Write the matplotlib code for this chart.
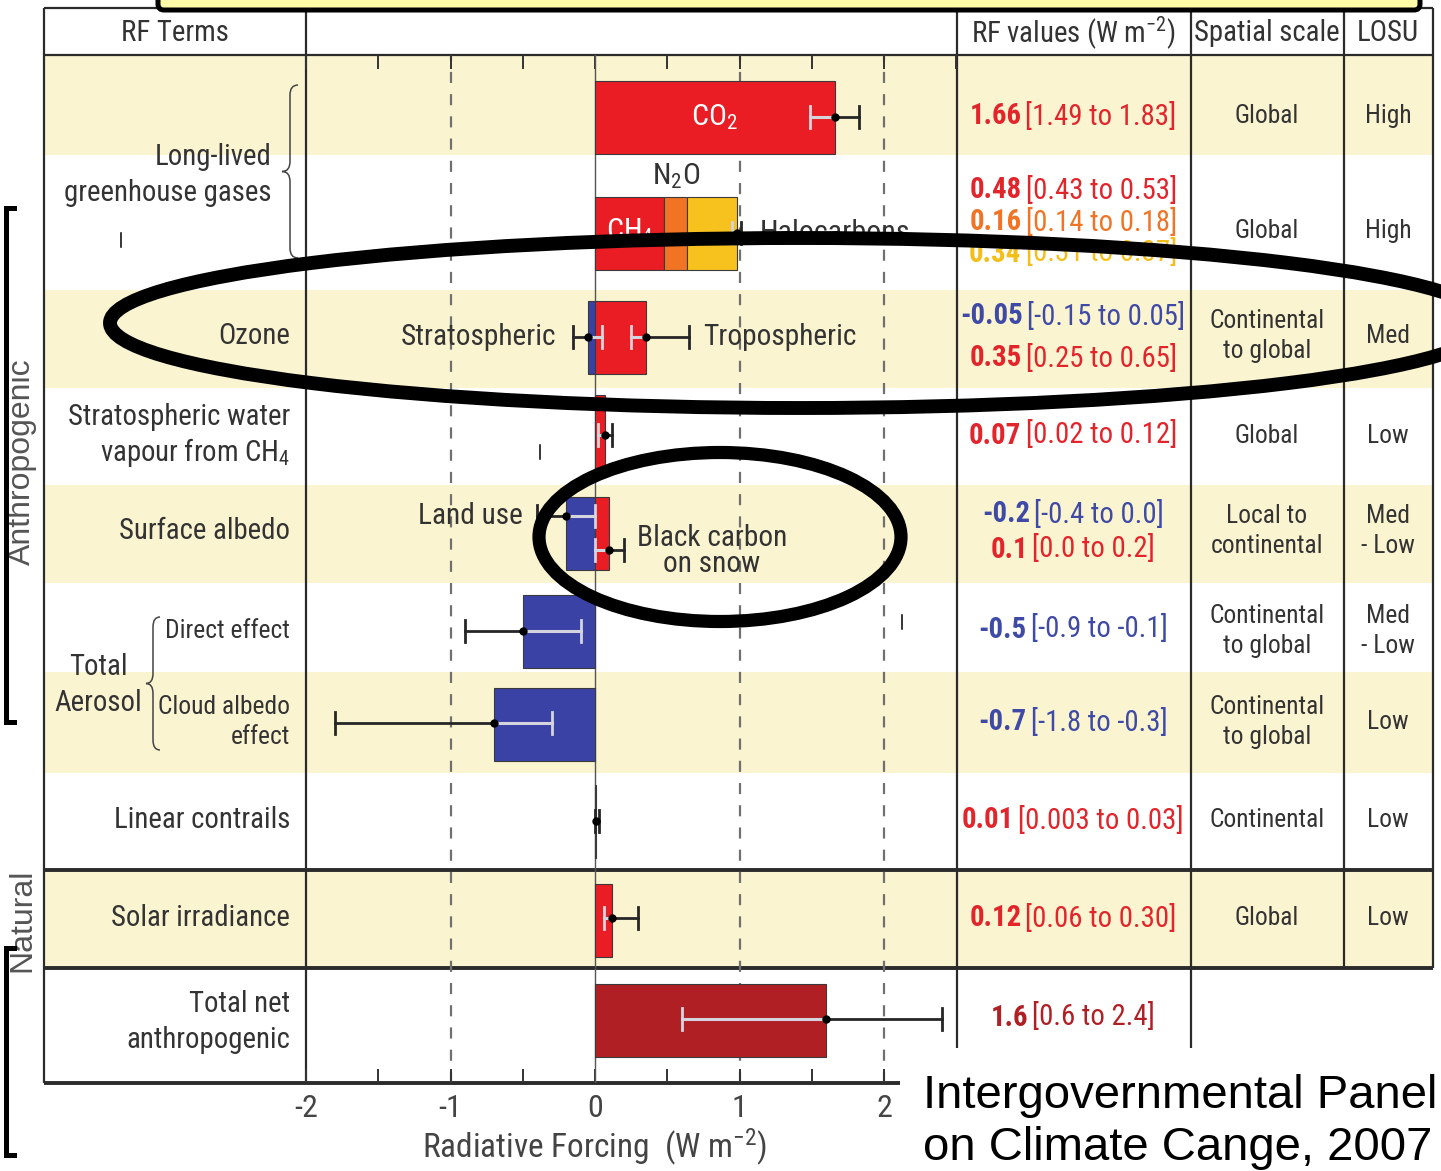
import matplotlib
matplotlib.use("Agg")
import matplotlib.pyplot as plt
from matplotlib import font_manager
from matplotlib.patches import Rectangle, Ellipse, FancyBboxPatch, PathPatch
from matplotlib.path import Path
from matplotlib.offsetbox import TextArea, HPacker, AnnotationBbox
from matplotlib.ticker import MultipleLocator


def pick_condensed():
    """Return (family, stretch, size factor) for a condensed sans face."""
    fonts = font_manager.fontManager.ttflist
    names = {f.name for f in fonts}
    for n in ["Liberation Sans Narrow", "Arial Narrow", "Roboto Condensed",
              "Open Sans Condensed", "Nimbus Sans Narrow"]:
        if n in names:
            return n, "normal", 0.94
    for fam in ["DejaVu Sans", "Noto Sans", "Open Sans", "Roboto"]:
        for f in fonts:
            if f.name == fam and str(f.stretch).endswith("condensed"):
                return fam, "condensed", 0.88
    return "Liberation Sans", "normal", 0.80


NARROW, STRETCH, SF = pick_condensed()
WIDE = "Liberation Sans"

plt.rcParams["font.family"] = [NARROW, "DejaVu Sans"]
plt.rcParams["font.stretch"] = STRETCH
plt.rcParams["axes.unicode_minus"] = False
plt.rcParams["mathtext.fontset"] = "custom"
plt.rcParams["mathtext.rm"] = NARROW
plt.rcParams["mathtext.it"] = NARROW + ":italic"
plt.rcParams["mathtext.bf"] = NARROW + ":bold"


def fs(pt):
    return pt * SF


# ---------------------------------------------------------------- data
terms = ["CO2", "CH4", "N2O", "Halocarbons", "Stratospheric ozone",
         "Tropospheric ozone", "Stratospheric water vapour", "Land use",
         "Black carbon on snow", "Direct effect", "Cloud albedo effect",
         "Linear contrails", "Solar irradiance", "Total net anthropogenic"]
rf_best = ["1.66", "0.48", "0.16", "0.34", "-0.05", "0.35", "0.07",
           "-0.2", "0.1", "-0.5", "-0.7", "0.01", "0.12", "1.6"]
rf_low = ["1.49", "0.43", "0.14", "0.31", "-0.15", "0.25", "0.02",
          "-0.4", "0.0", "-0.9", "-1.8", "0.003", "0.06", "0.6"]
rf_high = ["1.83", "0.53", "0.18", "0.37", "0.05", "0.65", "0.12",
           "0.0", "0.2", "-0.1", "-0.3", "0.03", "0.30", "2.4"]
stacked_terms = ["CH4", "N2O", "Halocarbons"]

row_labels = ["", "Long-lived\ngreenhouse gases", "Ozone",
              "Stratospheric water\nvapour from CH$_4$", "Surface albedo",
              "Direct effect", "Cloud albedo\neffect", "Linear contrails",
              "Solar irradiance", "Total net\nanthropogenic"]
spatial_scale = ["Global", "Global", "Continental\nto global", "Global",
                 "Local to\ncontinental", "Continental\nto global",
                 "Continental\nto global", "Continental", "Global", ""]
losu = ["High", "High", "Med", "Low", "Med\n- Low", "Med\n- Low", "Low",
        "Low", "Low", ""]
header = ["RF Terms", "RF values (W m$^{-2}$)", "Spatial scale", "LOSU"]
x_ticks = [-2, -1, 0, 1, 2]
x_label = "Radiative Forcing  (W m$^{-2}$)"

best = [float(s) for s in rf_best]
low = [float(s) for s in rf_low]
high = [float(s) for s in rf_high]

# ---------------------------------------------------------------- style
RED, BLUE, ORANGE, YELLOW, DARKRED = "#EA1D25", "#3B42A6", "#F07424", "#F8C21E", "#B01F24"
term_colors = [RED, RED, ORANGE, YELLOW, BLUE, RED, RED, BLUE, RED, BLUE,
               BLUE, RED, RED, DARKRED]
text_colors = ["#E2242B", "#E2242B", ORANGE, "#F3BE18", "#3F4AA6", "#E2242B",
               "#E2242B", "#3F4AA6", "#E2242B", "#3F4AA6", "#3F4AA6", "#E2242B",
               "#E2242B", DARKRED]
BAND = "#FBF4D0"
INK = "#333333"

W, H = 1441, 1171
fig = plt.figure(figsize=(W / 100, H / 100), dpi=100)

# page-pixel layout of the table
X_LEFT, X_TERMS, X_PLOT, X_VALS, X_SCALE, X_RIGHT = 44, 306, 957, 1191, 1344, 1433
Y_TOP, Y_HEAD = 8, 55
row_edges = [55, 155, 290, 388, 485, 583, 672, 773, 870, 968, 1083]
shaded_rows = [0, 2, 4, 6, 8]
row_text_y = [116, 231, 336, 436, 531, 631, 722, 820, 918, 1022]

base = fig.add_axes([0, 0, 1, 1], label="table")
base.set_xlim(0, W)
base.set_ylim(H, 0)
base.axis("off")

for r in shaded_rows:
    base.add_patch(Rectangle((X_LEFT, row_edges[r]), X_RIGHT - X_LEFT,
                             row_edges[r + 1] - row_edges[r], fc=BAND, ec="none", zorder=0))

line_kw = dict(color="#2b2b2b", zorder=2, solid_capstyle="butt")
for x, y0, y1 in [(X_LEFT, Y_TOP, 1083), (X_TERMS, Y_TOP, 1083), (X_PLOT, Y_TOP, 1083),
                  (X_VALS, Y_TOP, 1083), (X_SCALE, Y_TOP, 968), (X_RIGHT, Y_TOP, 968)]:
    base.plot([x, x], [y0, y1], lw=1.6, **line_kw)
for y, x1, lw in [(Y_TOP, X_RIGHT, 1.6), (Y_HEAD, X_RIGHT, 1.6), (870, X_RIGHT, 2.8),
                  (968, X_RIGHT, 2.8), (1083, X_VALS, 2.8)]:
    base.plot([X_LEFT, x1], [y, y], lw=lw, **line_kw)

# header
for txt, xc in zip(header, [175, 1073, 1267, 1388]):
    base.text(xc, 33, txt, ha="center", va="center", fontsize=fs(22), color=INK)

# left-hand term labels
for i, txt in enumerate(row_labels):
    if not txt:
        continue
    x, y, size, ls = 290, row_text_y[i], 22, 1.35
    if i == 1:
        x, y = 272, 175
    elif i == 3:
        ls = 1.2
    elif i == 5:
        size, ls = 19.5, 1.3
    elif i == 6:
        size, y, ls = 19.5, 722, 1.3
    base.text(x, y, txt, ha="right", va="center", fontsize=fs(size), color=INK,
              linespacing=ls)
base.text(98, 685, "Total\nAerosol", ha="center", va="center", fontsize=fs(22),
          color=INK, linespacing=1.35)


def brace(ax, x_body, x_tip, x_end, y0, y1, r=10):
    ym = (y0 + y1) / 2
    verts = [(x_end, y0), (x_body, y0), (x_body, y0 + r),
             (x_body, ym - r), (x_body, ym), (x_tip, ym),
             (x_body, ym), (x_body, ym + r),
             (x_body, y1 - r), (x_body, y1), (x_end, y1)]
    codes = [Path.MOVETO, Path.CURVE3, Path.CURVE3,
             Path.LINETO, Path.CURVE3, Path.CURVE3,
             Path.CURVE3, Path.CURVE3,
             Path.LINETO, Path.CURVE3, Path.CURVE3]
    ax.add_patch(PathPatch(Path(verts, codes), fill=False, ec="#444444", lw=1.1, zorder=3))


brace(base, 290, 282, 298, 85, 258)
brace(base, 153, 146, 160, 617, 750)

# spatial scale / LOSU columns
for i in range(len(spatial_scale)):
    y = row_text_y[i]
    if spatial_scale[i]:
        base.text(1267, y, spatial_scale[i], ha="center", va="center", fontsize=fs(19.5),
                  color=INK, linespacing=1.3)
    if losu[i]:
        base.text(1388, y, losu[i], ha="center", va="center", fontsize=fs(19.5),
                  color=INK, linespacing=1.3)

# RF values column: bold best estimate followed by the range
value_text_y = [116, 190, 222, 253, 316, 358, 435, 514, 549, 629, 722, 820, 918, 1017]
for i in range(len(terms)):
    c = text_colors[i]
    b = TextArea(rf_best[i], textprops=dict(color=c, fontsize=fs(22), fontweight="bold"))
    rng = TextArea(f"[{rf_low[i]} to {rf_high[i]}]",
                   textprops=dict(color=c, fontsize=fs(22)))
    pack = HPacker(children=[b, rng], align="baseline", pad=0, sep=3)
    base.add_artist(AnnotationBbox(pack, (1073, value_text_y[i]), xycoords="data",
                                   frameon=False, box_alignment=(0.5, 0.5), pad=0,
                                   zorder=3))

# ---------------------------------------------------------------- bar panel
bx = fig.add_axes([X_TERMS / W, 1 - 1083 / H, (X_PLOT - X_TERMS) / W, (1083 - Y_HEAD) / H],
                  label="bars")
bx.set_facecolor("none")
bx.set_xlim(-2, 2.505)
bx.set_ylim(1083, Y_HEAD)
for s in bx.spines.values():
    s.set_visible(False)
bx.set_yticks([])
bx.xaxis.set_minor_locator(MultipleLocator(0.5))
bx.set_xticks(x_ticks)
bx.set_xticklabels([str(t) for t in x_ticks])
bx.tick_params(axis="x", which="both", direction="in", top=True, bottom=True,
               length=10, width=1.4, color="#333333", labelsize=fs(24.5),
               labelcolor="#444444", pad=8)
bx.set_xlabel(x_label, fontsize=fs(25.5), color="#444444")
bx.xaxis.set_label_coords((0 - (-2)) / 4.505, -0.043)

for v in [-1, 1, 2]:
    bx.axvline(v, color="#707070", lw=1.6, ls=(0, (5, 5)), zorder=1)
bx.axvline(0, color="#555555", lw=1.0, zorder=2)

bar_y = [117, 233, 233, 233, 337, 337, 431, 533, 533, 631, 724, 821, 920, 1020]
err_y = [117, 233, 233, 233, 337, 337, 435, 516, 550, 631, 723, 821, 918, 1019]
row_group = [0, 1, 1, 1, 2, 2, 3, 4, 4, 5, 6, 7, 8, 9]
BAR_H = 73

lefts = [0.0] * len(terms)
acc = 0.0
for name in stacked_terms:
    k = terms.index(name)
    lefts[k] = acc
    acc += best[k]

for i in range(len(terms)):
    bx.barh(bar_y[i], best[i], left=lefts[i], height=BAR_H, color=term_colors[i],
            edgecolor="#3a3a3a", linewidth=0.8, zorder=3)

# extent covered by bars in each row, used to lighten the in-bar part of error bars
cover = {}
for i in range(len(terms)):
    a, b = sorted([lefts[i], lefts[i] + best[i]])
    g = row_group[i]
    lo, hi = cover.get(g, (a, b))
    cover[g] = (min(lo, a), max(hi, b))

DARK, LIGHT = "#262626", "#d4d4de"
for i in range(len(terms)):
    if terms[i] in ("CH4", "N2O"):
        continue
    off = lefts[i]
    lo, hi, bv, y = low[i] + off, high[i] + off, best[i] + off, err_y[i]
    c0, c1 = cover[row_group[i]]
    bx.plot([lo, hi], [y, y], color=DARK, lw=2.0, zorder=4)
    s0, s1 = max(lo, c0), min(hi, c1)
    if s1 > s0:
        bx.plot([s0, s1], [y, y], color=LIGHT, lw=2.2, zorder=5)
    for xe in (lo, hi):
        inside = c0 <= xe <= c1 and (c1 - c0) > 0.02
        bx.plot([xe, xe], [y - 11, y + 11], color=LIGHT if inside else DARK,
                lw=2.0, zorder=5)
    bx.plot([bv], [y], "o", color="black", ms=5, zorder=6)

# labels inside the bar panel
i_co2, i_ch4, i_n2o, i_hal = (terms.index(t) for t in ("CO2", "CH4", "N2O", "Halocarbons"))
bx.text(best[i_co2] / 2, bar_y[i_co2], "CO$_2$", color="white", ha="center",
        va="center", fontsize=fs(23), zorder=7)
bx.text(lefts[i_ch4] + best[i_ch4] / 2, bar_y[i_ch4] - 2, "CH$_4$", color="white",
        ha="center", va="center", fontsize=fs(23), zorder=7)
bx.text(lefts[i_n2o] + best[i_n2o] / 2, 176, "N$_2$O", color=INK, ha="center",
        va="center", fontsize=fs(23), zorder=7)
bx.text(lefts[i_hal] + best[i_hal] + 0.16, bar_y[i_hal], "Halocarbons", color=INK,
        ha="left", va="center", fontsize=fs(23), zorder=7)
i_so, i_to = terms.index("Stratospheric ozone"), terms.index("Tropospheric ozone")
bx.text(low[i_so] - 0.12, err_y[i_so], "Stratospheric", color=INK, ha="right",
        va="center", fontsize=fs(22.5), zorder=7)
bx.text(high[i_to] + 0.1, err_y[i_to], "Tropospheric", color=INK, ha="left",
        va="center", fontsize=fs(22.5), zorder=7)
i_lu, i_bc = terms.index("Land use"), terms.index("Black carbon on snow")
bx.text(low[i_lu] - 0.1, err_y[i_lu], "Land use", color=INK, ha="right",
        va="center", fontsize=fs(22.5), zorder=7)
bx.text(0.81, 551, "Black carbon\non snow", color=INK, ha="center", va="center",
        fontsize=fs(22.5), linespacing=0.95, zorder=7)

# ---------------------------------------------------------------- overlay marks
ov = fig.add_axes([0, 0, 1, 1], label="overlay")
ov.set_xlim(0, W)
ov.set_ylim(H, 0)
ov.axis("off")
ov.set_zorder(10)
ov.patch.set_alpha(0)

ov.add_patch(FancyBboxPatch((158, -40), 1262, 50,
                            boxstyle="round,pad=0,rounding_size=6",
                            fc="#FFFBA8", ec="black", lw=3.6, zorder=3))
ov.add_patch(Ellipse((800, 323), 1380, 170, fill=False, ec="black", lw=10, zorder=4))
ov.add_patch(Ellipse((720, 537), 362, 169, fill=False, ec="black", lw=9.5, zorder=4))

for y0, y1 in [(208, 722), (948, 1155)]:
    ov.plot([14, 6, 6, 14], [y0, y0, y1, y1], color="black", lw=3.6,
            solid_joinstyle="miter", zorder=4)

for x, y in [(121, 240), (540, 452), (902, 622)]:
    ov.plot([x, x], [y - 7, y + 7], color="black", lw=1.1, zorder=4)

ov.text(22, 462, "Anthropogenic", rotation=90, ha="center", va="center",
        fontsize=23, color="#555555", family=WIDE, stretch="normal")
ov.text(22, 920, "Natural", rotation=90, ha="center", va="center",
        fontsize=23, color="#555555", family=WIDE, stretch="normal")

ov.add_patch(Rectangle((900, 1048), W - 900, H - 1048, fc="white", ec="none", zorder=5))
ov.text(923, 1108, "Intergovernmental Panel", ha="left", va="baseline",
        fontsize=34, color="black", family=WIDE, stretch="normal", zorder=6)
ov.text(923, 1160, "on Climate Cange, 2007", ha="left", va="baseline",
        fontsize=34, color="black", family=WIDE, stretch="normal", zorder=6)

fig.savefig("out.png", dpi=100)
